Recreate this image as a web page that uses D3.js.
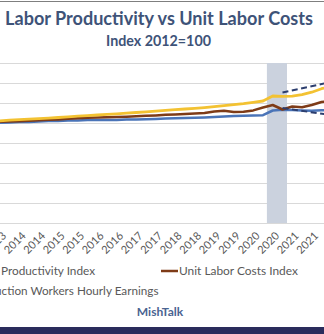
<!DOCTYPE html>
<html><head><meta charset="utf-8">
<script src="https://cdn.jsdelivr.net/npm/d3@7"></script>
<style>html,body{margin:0;padding:0;background:#fff;overflow:hidden}</style>
</head><body><svg id="c" width="324" height="334"></svg>
<script>
// ---- data ----
const quarters = [
  "2013 Q1","2013 Q2","2013 Q3","2013 Q4",
  "2014 Q1","2014 Q2","2014 Q3","2014 Q4",
  "2015 Q1","2015 Q2","2015 Q3","2015 Q4",
  "2016 Q1","2016 Q2","2016 Q3","2016 Q4",
  "2017 Q1","2017 Q2","2017 Q3","2017 Q4",
  "2018 Q1","2018 Q2","2018 Q3","2018 Q4",
  "2019 Q1","2019 Q2","2019 Q3","2019 Q4",
  "2020 Q1","2020 Q2","2020 Q3","2020 Q4",
  "2021 Q1","2021 Q2","2021 Q3","2021 Q4"
];
const laborProductivity = [
  100.0,100.3,100.6,101.0, 101.0,101.4,101.9,102.1, 102.4,102.6,102.9,102.9,
  103.0,103.1,103.4,103.6, 103.8,104.0,104.4,104.7, 105.0,105.3,105.6,105.9,
  106.4,106.9,107.2,107.5, 107.8,112.5,113.3,113.0, 112.6,112.2,112.8,113.0
];
const unitLaborCosts = [
  100.8,101.3,101.6,101.8, 102.3,102.8,103.2,103.6, 104.2,104.8,105.3,105.5,
  105.7,106.0,106.3,106.8, 107.2,107.6,108.2,108.6, 109.0,109.4,110.0,111.5,
  112.3,110.9,111.3,112.6, 115.5,118.0,113.5,116.5, 115.8,118.0,121.0,122.0
];
const hourlyEarnings = [
  101.5,102.2,102.8,103.4, 103.9,104.4,104.9,105.5, 106.1,106.8,107.4,108.0,
  108.6,109.2,109.8,110.5, 111.2,111.9,112.7,113.3, 114.0,114.6,115.4,116.3,
  117.3,118.3,119.3,120.6, 122.0,127.0,126.6,126.8, 128.3,130.8,134.3,136.5
];
const tickQuarters = ["2013 Q1","2013 Q3","2014 Q1","2014 Q3","2015 Q1","2015 Q3","2016 Q1","2016 Q3",
  "2017 Q1","2017 Q3","2018 Q1","2018 Q3","2019 Q1","2019 Q3","2020 Q1","2020 Q3","2021 Q1","2021 Q3"];
const tickLabels = ["2013","2013","2014","2014","2015","2015","2016","2016",
  "2017","2017","2018","2018","2019","2019","2020","2020","2021","2021"];
const yTicks = [0,20,40,60,80,100,120,140,160];
const recession = [2020.1, 2020.615];
const upperTrend = [[2020.5, 130.5],[2021.6, 139.7]];
const lowerTrend = [[2020.5, 115.0],[2021.6, 108.7]];
const seriesNames = ["Labor Productivity Index","Unit Labor Costs Index","Production Workers Hourly Earnings"];
const seriesColors = ["#4a74b8","#7e3b17","#f3c232"];

// ---- drawing ----
const svg = d3.select("#c");
const FONT = "Lato, 'Open Sans', sans-serif";
const tq = q => +q.slice(0,4) + (+q.slice(-1)-1)/4;
const x = d3.scaleLinear().domain([2013, 2022]).range([-10, 341]);
const y = d3.scaleLinear().domain([0, 160]).range([223, 63]);

svg.append("rect").attr("width",324).attr("height",334).attr("fill","#fff");
svg.append("line").attr("x1",0).attr("x2",324).attr("y1",1.5).attr("y2",1.5)
  .attr("stroke","#7f7f7f").attr("stroke-width",1.2);
svg.append("rect").attr("x",0).attr("y",327).attr("width",324).attr("height",7).attr("fill","#2a2c5c");

function fit(sel, target, from) {
  const node = sel.node();
  const n = sel.text().length;
  from = from || 0;
  const w = node.getSubStringLength(from, n - from);
  const fs = parseFloat(sel.attr("font-size"));
  sel.attr("font-size", fs * target / w);
  return sel;
}

// title
fit(svg.append("text").attr("x",159).attr("y",25).attr("text-anchor","middle")
  .attr("font-family",FONT).attr("font-weight","bold").attr("font-size",18)
  .attr("fill","#3e5378").text("Labor Productivity vs Unit Labor Costs"), 308);
fit(svg.append("text").attr("x",158.5).attr("y",45.5).attr("text-anchor","middle")
  .attr("font-family",FONT).attr("font-weight","bold").attr("font-size",14)
  .attr("fill","#3e5378").text("Index 2012=100"), 105);

// y gridlines (the value labels lie outside the cropped view)
const yAxis = svg.append("g").attr("transform","translate(-14,0)")
  .call(d3.axisLeft(y).tickValues(yTicks).tickSize(-380).tickFormat(""));
yAxis.select(".domain").remove();
yAxis.selectAll(".tick line").attr("stroke","#d9d9d9").attr("stroke-width",1);

// recession band
svg.append("rect").attr("x",x(recession[0])).attr("y",y(160))
  .attr("width",x(recession[1])-x(recession[0])).attr("height",y(0)-y(160))
  .attr("fill","#cbd2de");

// x axis labels
const xAxis = svg.append("g").attr("transform","translate(0,223)")
  .call(d3.axisBottom(x).tickValues(tickQuarters.map(tq))
    .tickFormat((d,i)=>tickLabels[i]).tickSize(0).tickPadding(0));
xAxis.select(".domain").remove();
xAxis.selectAll(".tick text").attr("x",0).attr("y",0).attr("dy",0)
  .attr("transform","translate(-3,13.5) rotate(-45)").attr("text-anchor","end")
  .attr("fill","#595959").attr("font-family",FONT).attr("font-size",11);

// lines
const line = d3.line().x((d,i)=>x(tq(quarters[i]))).y(d=>y(d));
[laborProductivity, unitLaborCosts, hourlyEarnings].forEach((s,k)=>{
  svg.append("path").datum(s).attr("d",line).attr("fill","none")
    .attr("stroke",seriesColors[k]).attr("stroke-width",k===2?2.8:2.5)
    .attr("stroke-linejoin","round").attr("stroke-linecap","round");
});

// dashed trend annotations
const tline = d3.line().x(d=>x(d[0])).y(d=>y(d[1]));
[upperTrend, lowerTrend].forEach(t=>{
  svg.append("path").datum(t).attr("d",tline).attr("fill","none")
    .attr("stroke","#2c3e6e").attr("stroke-width",2).attr("stroke-dasharray","6,3.5");
});

// legend
function legendItem(i, anchorX, baseY, anchor, target, from) {
  const t = svg.append("text").attr("x",anchorX).attr("y",baseY).attr("text-anchor",anchor)
    .attr("font-family",FONT).attr("font-size",12.5).attr("fill","#595959").text(seriesNames[i]);
  fit(t, target, from);
  const w = t.node().getComputedTextLength();
  const startX = anchor === "end" ? anchorX - w : anchorX;
  svg.append("line").attr("x1",startX-18).attr("x2",startX-1).attr("y1",baseY-4).attr("y2",baseY-4)
    .attr("stroke",seriesColors[i]).attr("stroke-width",2.5);
}
legendItem(0, 95, 275, "end", 94, 6);
legendItem(1, 179, 275, "start", 119, 0);
legendItem(2, 158.5, 295, "end", 157, 5);

fit(svg.append("text").attr("x",160).attr("y",315.5).attr("text-anchor","middle")
  .attr("font-family",FONT).attr("font-weight","bold").attr("font-size",11.5)
  .attr("fill","#4a6491").text("MishTalk"), 46.5);
</script>
</body></html>
